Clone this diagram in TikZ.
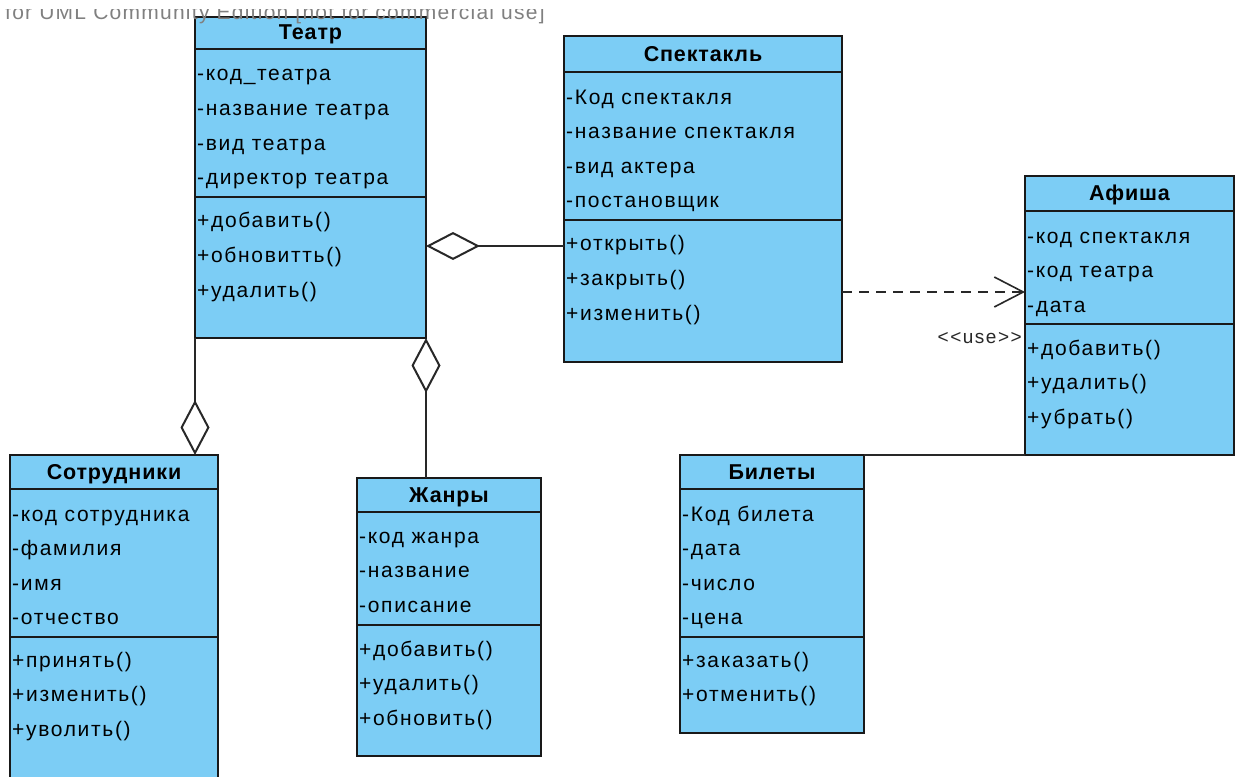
\documentclass[tikz,border=0pt]{standalone}
\usepackage{fontspec}
\usetikzlibrary{arrows.meta}
\newfontfamily\umlfont[LetterSpace=8]{Liberation Sans}
\newfontfamily\umltitlefont[LetterSpace=4]{Liberation Sans}
\newfontfamily\wmfont[LetterSpace=6]{Liberation Sans}
\definecolor{clsfill}{RGB}{124,205,245}
\definecolor{clsline}{RGB}{25,25,25}
\definecolor{connline}{RGB}{40,40,40}
\definecolor{wmgray}{RGB}{128,128,128}
\tikzset{
  cls/.style={draw=clsline, fill=clsfill, line width=2pt, inner sep=0pt, outer sep=0pt, anchor=north west},
  sepline/.style={draw=clsline, line width=2pt},
  title/.style={anchor=base, inner sep=0pt, font=\umltitlefont\bfseries\fontsize{21.5}{24}\selectfont},
  attr/.style={anchor=base west, inner sep=0pt, font=\umlfont\fontsize{21}{24}\selectfont},
  conn/.style={draw=connline, line width=2pt},
  lbl/.style={anchor=base east, inner sep=0pt, text=connline, font=\umlfont\fontsize{19}{22}\selectfont},
}
\begin{document}
\begin{tikzpicture}[x=1pt,y=-1pt]
\useasboundingbox (0,0) rectangle (1238,776);
\fill[white] (0,0) rectangle (1238,776);
\clip (0,0) rectangle (1238,776);

% ---------- Театр ----------
\node[cls, minimum width=231pt, minimum height=321pt] (teatr) at (195,17) {};
\draw[sepline] (195,49) -- (426,49);
\draw[sepline] (195,197) -- (426,197);
\node[title] (teatr-t) at (310.5,40) {Театр};
\node[attr] (teatr-a1) at (197,81) {-код\_театра};
\node[attr] (teatr-a2) at (197,115.5) {-название театра};
\node[attr] (teatr-a3) at (197,150) {-вид театра};
\node[attr] (teatr-a4) at (197,184.5) {-директор театра};
\node[attr] (teatr-o1) at (197,227) {+добавить()};
\node[attr] (teatr-o2) at (197,262) {+обновитть()};
\node[attr] (teatr-o3) at (197,297) {+удалить()};

% ---------- Спектакль ----------
\node[cls, minimum width=278pt, minimum height=326pt] (spekt) at (564,36) {};
\draw[sepline] (564,72) -- (842,72);
\draw[sepline] (564,220) -- (842,220);
\node[title] (spekt-t) at (703,61) {Спектакль};
\node[attr] (spekt-a1) at (566,104) {-Код спектакля};
\node[attr] (spekt-a2) at (566,138.5) {-название спектакля};
\node[attr] (spekt-a3) at (566,173) {-вид актера};
\node[attr] (spekt-a4) at (566,207.5) {-постановщик};
\node[attr] (spekt-o1) at (566,250) {+открыть()};
\node[attr] (spekt-o2) at (566,285) {+закрыть()};
\node[attr] (spekt-o3) at (566,320) {+изменить()};

% ---------- Афиша ----------
\node[cls, minimum width=209pt, minimum height=279pt] (afisha) at (1025,176) {};
\draw[sepline] (1025,211) -- (1234,211);
\draw[sepline] (1025,324) -- (1234,324);
\node[title] (afisha-t) at (1129.5,200) {Афиша};
\node[attr] (afisha-a1) at (1027,243) {-код спектакля};
\node[attr] (afisha-a2) at (1027,277.5) {-код театра};
\node[attr] (afisha-a3) at (1027,312) {-дата};
\node[attr] (afisha-o1) at (1027,355) {+добавить()};
\node[attr] (afisha-o2) at (1027,389.5) {+удалить()};
\node[attr] (afisha-o3) at (1027,424) {+убрать()};

% ---------- Сотрудники ----------
\node[cls, minimum width=208pt, minimum height=345pt] (sotr) at (10,455) {};
\draw[sepline] (10,489) -- (218,489);
\draw[sepline] (10,637) -- (218,637);
\node[title] (sotr-t) at (114,479) {Сотрудники};
\node[attr] (sotr-a1) at (12,521) {-код сотрудника};
\node[attr] (sotr-a2) at (12,555.5) {-фамилия};
\node[attr] (sotr-a3) at (12,590) {-имя};
\node[attr] (sotr-a4) at (12,624.5) {-отчество};
\node[attr] (sotr-o1) at (12,667) {+принять()};
\node[attr] (sotr-o2) at (12,701.5) {+изменить()};
\node[attr] (sotr-o3) at (12,736) {+уволить()};

% ---------- Жанры ----------
\node[cls, minimum width=184pt, minimum height=278pt] (zhanr) at (357,478) {};
\draw[sepline] (357,512) -- (541,512);
\draw[sepline] (357,625) -- (541,625);
\node[title] (zhanr-t) at (449,502) {Жанры};
\node[attr] (zhanr-a1) at (359,543) {-код жанра};
\node[attr] (zhanr-a2) at (359,577.5) {-название};
\node[attr] (zhanr-a3) at (359,612) {-описание};
\node[attr] (zhanr-o1) at (359,656) {+добавить()};
\node[attr] (zhanr-o2) at (359,690.5) {+удалить()};
\node[attr] (zhanr-o3) at (359,725) {+обновить()};

% ---------- Билеты ----------
\node[cls, minimum width=184pt, minimum height=278pt] (bilety) at (680,455) {};
\draw[sepline] (680,489) -- (864,489);
\draw[sepline] (680,637) -- (864,637);
\node[title] (bilety-t) at (772,479) {Билеты};
\node[attr] (bilety-a1) at (682,521) {-Код билета};
\node[attr] (bilety-a2) at (682,555.5) {-дата};
\node[attr] (bilety-a3) at (682,590) {-число};
\node[attr] (bilety-a4) at (682,624.5) {-цена};
\node[attr] (bilety-o1) at (682,667) {+заказать()};
\node[attr] (bilety-o2) at (682,701.5) {+отменить()};

% ---------- connectors ----------
\draw[conn, {Diamond[open, length=54pt, width=28pt, line width=2pt]}-] (teatr.east |- 0,246) -- (spekt.west |- 0,246);
\draw[conn, -{Diamond[open, length=55pt, width=29pt, line width=2pt]}] (teatr.south west) -- (teatr.south west |- sotr.north);
\draw[conn, {Diamond[open, length=55pt, width=29pt, line width=2pt]}-] (teatr.south east) -- (teatr.south east |- zhanr.north);
\draw[conn, dash pattern=on 10pt off 7pt, -{Straight Barb[length=29pt, width=30pt, line width=1.6pt]}] (spekt.east |- 0,292) -- (afisha.west |- 0,292);
\draw[conn] (bilety.north east) -- (afisha.south west);
\node[lbl] (uselbl) at (1022,343) {<<use>>};

% ---------- watermark ----------
\begin{scope}
\clip (0,10) rectangle (620,40);
\node[anchor=base west, inner sep=0pt, text=wmgray, font=\wmfont\fontsize{21}{24}\selectfont] (wm) at (5,20) {for UML Community Edition [not for commercial use]};
\end{scope}
\end{tikzpicture}
\end{document}
